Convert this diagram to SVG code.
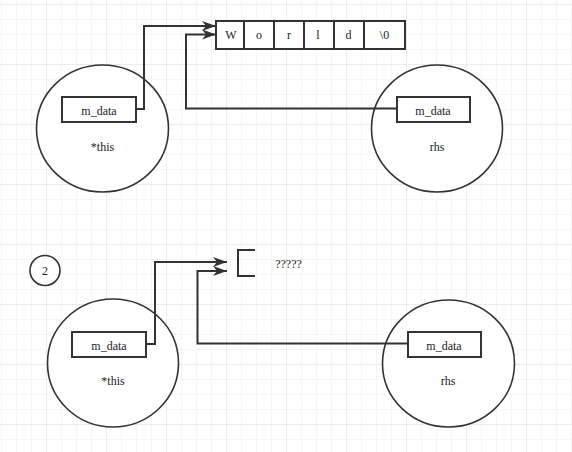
<svg xmlns="http://www.w3.org/2000/svg" width="572" height="452" viewBox="0 0 572 452">
<defs>
<pattern id="minor" x="1" y="4" width="15" height="15" patternUnits="userSpaceOnUse">
<path d="M0,0 H15 M0,0 V15" fill="none" stroke="#ededed" stroke-width="1"/>
</pattern>
<pattern id="major" x="46" y="4" width="60" height="60" patternUnits="userSpaceOnUse">
<path d="M0,0 H60 M0,0 V60" fill="none" stroke="#e2e2e2" stroke-width="1"/>
</pattern>
<marker id="arr" markerUnits="userSpaceOnUse" markerWidth="16" markerHeight="12" refX="14" refY="5" orient="auto" overflow="visible">
<path d="M0,0 L14,5 L0,10 L4,5 Z" fill="#333"/>
</marker>
</defs>
<style>
.circ{fill:#fff;stroke:#333;stroke-width:1.6}
.box{fill:#fff;stroke:#333;stroke-width:2}
.line{fill:none;stroke:#333;stroke-width:2}
text{font-family:"Liberation Serif","Noto Sans CJK SC",serif;font-size:12px;fill:#222;text-anchor:middle;dominant-baseline:central}
</style>
<rect width="572" height="452" fill="#fff"/>
<rect width="572" height="452" fill="url(#minor)"/>
<rect width="572" height="452" fill="url(#major)"/>

<g id="this-top">
<ellipse class="circ" cx="102.5" cy="128.5" rx="66" ry="63.5"/>
<rect class="box" x="62" y="97" width="74" height="25"/>
<text x="99" y="110.5">m_data</text>
<text x="102.5" y="147">*this</text>
</g>
<g id="rhs-top">
<ellipse class="circ" cx="437" cy="128.5" rx="65.5" ry="63.5"/>
<rect class="box" x="397" y="97" width="73" height="25"/>
<text x="433" y="110.5">m_data</text>
<text x="437" y="147">rhs</text>
</g>
<g id="array">
<rect class="box" x="216" y="21" width="189" height="28"/>
<path class="line" d="M244,21 V49 M274,21 V49 M304,21 V49 M334,21 V49 M364,21 V49"/>
<text x="231" y="35">W</text>
<text x="259" y="35">o</text>
<text x="289" y="35">r</text>
<text x="318" y="35">l</text>
<text x="348.5" y="35">d</text>
<text x="384.5" y="35">\0</text>
</g>

<g id="step2">
<circle cx="45" cy="270.5" r="15" fill="#fff" stroke="#333" stroke-width="1.6"/>
<text x="45" y="270.5">2</text>
</g>
<g id="this-bottom">
<ellipse class="circ" cx="113" cy="363" rx="65.5" ry="64"/>
<rect class="box" x="72" y="332" width="74" height="25"/>
<text x="109" y="345.5">m_data</text>
<text x="113" y="381">*this</text>
</g>
<g id="rhs-bottom">
<ellipse class="circ" cx="448.5" cy="363.5" rx="66" ry="63.5"/>
<rect class="box" x="408" y="332" width="73" height="25"/>
<text x="444" y="345.5">m_data</text>
<text x="448" y="381">rhs</text>
</g>
<g id="unknown">
<path class="line" d="M255,250 H238 V276 H255"/>
<text x="288.5" y="264">?????</text>
</g>

<g id="connectors">
<path class="line" marker-end="url(#arr)" d="M136,109 H144 V26 H216"/>
<path class="line" marker-end="url(#arr)" d="M397,108.5 H186 V34.5 H216"/>
<path class="line" marker-end="url(#arr)" d="M146,344 H155 V262 H227"/>
<path class="line" marker-end="url(#arr)" d="M408,343.5 H197.5 V271 H227"/>
</g>
</svg>
